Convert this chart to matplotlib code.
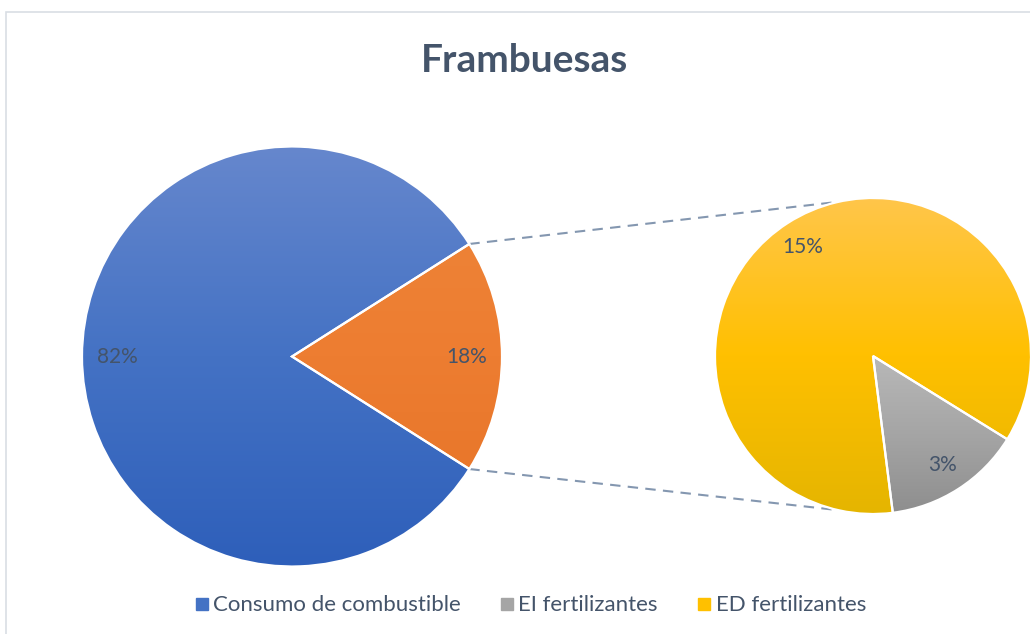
import numpy as np
import matplotlib
matplotlib.use('Agg')
import matplotlib.pyplot as plt
from matplotlib.colors import LinearSegmentedColormap
from matplotlib.lines import Line2D
from matplotlib.patches import Rectangle

plt.rcParams['font.family'] = ['Lato', 'DejaVu Sans']

# data (percent of total)
main_labels = ['Consumo de combustible', 'Fertilizantes']
main_values = [82, 18]
sub_labels = ['ED fertilizantes', 'EI fertilizantes']
sub_values = [15.45, 2.55]

text_col = '#44546A'

# gradients (bottom, middle, top)
grad_main = [['#2E5FBA', '#4472C4', '#6687CD'], ['#E9772B', '#ED7D31', '#EE8236']]
grad_sub = [['#E5B500', '#FFC000', '#FFC64A'], ['#8E8E8E', '#A5A5A5', '#B8B8B8']]

fig = plt.figure(figsize=(10.30, 6.34), dpi=100)
ax = fig.add_axes([0, 0, 1, 1])

H = 634
c_main = (292, H - 356.5)
r_main = 210
c_sub = (873, H - 356)
r_sub = 158

wedge_kw = dict(edgecolor='white', linewidth=1.6, zorder=3)
tp = dict(color=text_col, fontsize=15, zorder=5)

w_main, _, t_main = ax.pie(main_values, center=c_main, radius=r_main,
                           startangle=main_values[1] / 2 * 3.6, counterclock=True,
                           autopct='%.0f%%', pctdistance=0.83,
                           wedgeprops=wedge_kw, textprops=tp)

sub_total = sum(sub_values)
w_sub, _, t_sub = ax.pie(sub_values, center=c_sub, radius=r_sub,
                         startangle=-31.8, counterclock=True,
                         autopct=lambda p: '%.0f%%' % (p * sub_total / 100),
                         pctdistance=0.82, wedgeprops=wedge_kw, textprops=tp)


def fill_gradient(w, cols):
    w.set_facecolor('none')
    ext = w.get_path().get_extents()
    cmap = LinearSegmentedColormap.from_list('g', cols)
    grad = np.linspace(0, 1, 256).reshape(-1, 1)
    im = ax.imshow(grad, cmap=cmap, origin='lower', aspect='auto',
                   extent=[ext.x0, ext.x1, ext.y0, ext.y1], zorder=2)
    im.set_clip_path(w)


for w, cols in zip(w_main, grad_main):
    fill_gradient(w, cols)
for w, cols in zip(w_sub, grad_sub):
    fill_gradient(w, cols)

# connector lines (top edge of orange -> top of sub pie, bottom -> bottom)
for a1, a2 in [(w_main[1].theta2, 102.6), (w_main[1].theta1, -102.6)]:
    p1 = (c_main[0] + r_main * np.cos(np.radians(a1)), c_main[1] + r_main * np.sin(np.radians(a1)))
    p2 = (c_sub[0] + r_sub * np.cos(np.radians(a2)), c_sub[1] + r_sub * np.sin(np.radians(a2)))
    ax.plot([p1[0], p2[0]], [p1[1], p2[1]], color='#8497B0', lw=1.5,
            dashes=(5, 3.5), zorder=1)

# chart border
ax.add_patch(Rectangle((6, -10), 1100, H - 12 + 10, fill=False,
                       edgecolor='#D9DEE4', lw=1.2, zorder=0))

ax.set_xlim(0, 1030)
ax.set_ylim(0, H)
ax.set_aspect('equal')
ax.axis('off')

ax.text(524, H - 60, 'Frambuesas', ha='center', va='center', fontsize=28,
        fontweight='bold', color=text_col)

# legend
handles = [Line2D([], [], marker='s', ls='none', markersize=8, color=grad_main[0][1]),
           Line2D([], [], marker='s', ls='none', markersize=8, color=grad_sub[1][1]),
           Line2D([], [], marker='s', ls='none', markersize=8, color=grad_sub[0][1])]
fig.legend(handles, [main_labels[0], sub_labels[1], sub_labels[0]], loc='center',
           bbox_to_anchor=(0.515, 0.045), ncol=3, frameon=False, fontsize=16,
           handlelength=0.6, handletextpad=0.2, columnspacing=1.8, labelcolor=text_col)

fig.savefig('out.png', dpi=100)
